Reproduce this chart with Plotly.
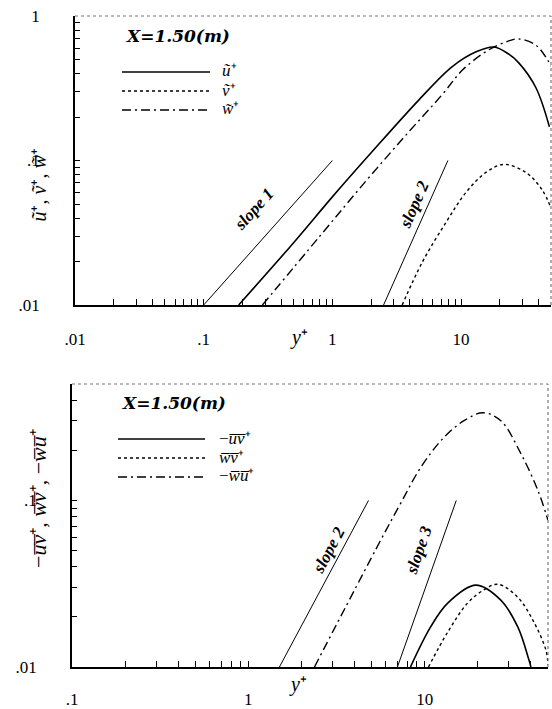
import numpy as np
import plotly.graph_objects as go

W, H = 552, 709

# ---------------- data (top panel) ----------------
u_x = [0.187, 0.5, 1.0, 2.0, 4.73, 8.5, 13.1, 18.0, 23.1, 28.1, 38.1, 48.6]
u_y = [0.01, 0.027, 0.056, 0.113, 0.264, 0.445, 0.565, 0.61, 0.55, 0.474, 0.32, 0.171]

v_x = [3.49, 5.0, 7.65, 10.9, 15.6, 21.5, 31.9, 42.5, 50.0]
v_y = [0.01, 0.0198, 0.0374, 0.060, 0.0827, 0.094, 0.0827, 0.063, 0.047]

w_x = [0.286, 0.8, 1.87, 3.88, 7.12, 10.3, 16.4, 23.5, 28.0, 38.0, 47.0, 50.0]
w_y = [0.01, 0.030, 0.074, 0.156, 0.285, 0.424, 0.583, 0.672, 0.694, 0.631, 0.497, 0.45]

slope1_x = [0.1, 1.0]
slope1_y = [0.01, 0.1]
slope2a_x = [2.5, 7.9]
slope2a_y = [0.01, 0.1]

# ---------------- data (bottom panel) ----------------
uv_x = [8.3, 10.8, 13.5, 19.5, 27.0, 33.7, 39.0, 40.0]
uv_y = [0.01, 0.0174, 0.0242, 0.031, 0.0252, 0.0174, 0.011, 0.01]

wv_x = [10.5, 13.5, 17.5, 21.6, 26.0, 33.7, 41.6, 48.7, 50.0]
wv_y = [0.01, 0.0162, 0.0242, 0.029, 0.0314, 0.0262, 0.0186, 0.0126, 0.0103]

wu_x = [2.37, 5.62, 7.3, 9.5, 12.8, 16.7, 21.4, 27.0, 35.1, 43.8, 50.0]
wu_y = [0.01, 0.0576, 0.096, 0.158, 0.238, 0.301, 0.336, 0.301, 0.191, 0.115, 0.076]

slope2b_x = [1.5, 4.8]
slope2b_y = [0.01, 0.1]
slope3_x = [7.0, 15.1]
slope3_y = [0.01, 0.1]

top_ticks = [0.01, 0.1, 1, 10]
top_ticktext = [".01", ".1", "1", "10"]
top_yticks = [0.01, 0.1, 1]
top_yticktext = [".01", ".1", "1"]
bot_ticks = [0.1, 1, 10]
bot_ticktext = [".1", "1", "10"]
bot_yticks = [0.01, 0.1]
bot_yticktext = [".01", ".1"]

top_labels = ["<i>ũ</i>⁺", "<i>ṽ</i>⁺", "<i>w̃</i>⁺"]
bot_labels = ["−<i>u̅v̅</i>⁺", "<i>w̅v̅</i>⁺", "−<i>w̅u̅</i>⁺"]


def with_minors(major, major_text, lo, hi):
    vals, texts = [], []
    d = 10 ** np.floor(np.log10(lo))
    while d <= hi:
        for m in range(1, 10):
            v = m * d
            if lo * 0.9999 <= v <= hi * 1.0001:
                vals.append(v)
                lab = ""
                for mv, mt in zip(major, major_text):
                    if abs(np.log10(mv) - np.log10(v)) < 1e-6:
                        lab = mt
                texts.append(lab)
        d *= 10
    return vals, texts


def px(x):
    return x / W


def py(y):
    return 1 - y / H


fig = go.Figure()

SERIF = "Liberation Serif"
line_solid = dict(color="black", width=1.6)
line_dot = dict(color="black", width=1.4, dash="3px,3px")
line_dd = dict(color="black", width=1.4, dash="9px,4px,2px,4px")
thin = dict(color="black", width=1)
styles = [line_solid, line_dot, line_dd]

# top traces
for xs, ys, st, nm in ((u_x, u_y, line_solid, top_labels[0]),
                       (v_x, v_y, line_dot, top_labels[1]),
                       (w_x, w_y, line_dd, top_labels[2])):
    fig.add_trace(go.Scatter(x=xs, y=ys, mode="lines", line=st, line_shape="spline",
                             name=nm, showlegend=False, xaxis="x", yaxis="y"))
for xs, ys in ((slope1_x, slope1_y), (slope2a_x, slope2a_y)):
    fig.add_trace(go.Scatter(x=xs, y=ys, mode="lines", line=thin, showlegend=False,
                             xaxis="x", yaxis="y"))

# bottom traces
for xs, ys, st, nm in ((uv_x, uv_y, line_solid, bot_labels[0]),
                       (wv_x, wv_y, line_dot, bot_labels[1]),
                       (wu_x, wu_y, line_dd, bot_labels[2])):
    fig.add_trace(go.Scatter(x=xs, y=ys, mode="lines", line=st, line_shape="spline",
                             name=nm, showlegend=False, xaxis="x2", yaxis="y2"))
for xs, ys in ((slope2b_x, slope2b_y), (slope3_x, slope3_y)):
    fig.add_trace(go.Scatter(x=xs, y=ys, mode="lines", line=thin, showlegend=False,
                             xaxis="x2", yaxis="y2"))

tickfont = dict(family=SERIF, size=17, color="black")


def axis(dom, rng, major, major_text, lo, hi, anchor, standoff, tlen):
    tv, tt = with_minors(major, major_text, lo, hi)
    return dict(type="log", domain=dom, range=rng, anchor=anchor, automargin=False,
                showline=True, linecolor="black", linewidth=1.5,
                showgrid=False, zeroline=False,
                tickmode="array", tickvals=tv, ticktext=tt,
                ticks="inside", ticklen=tlen, tickcolor="black", tickwidth=1,
                ticklabelstandoff=standoff, tickfont=tickfont)


top_xdom = [px(75), px(551)]
top_ydom = [py(305), py(16)]
bot_xdom = [px(72), px(548)]
bot_ydom = [py(667), py(384)]

fig.update_layout(
    width=W, height=H, margin=dict(l=0, r=0, t=0, b=0),
    paper_bgcolor="white", plot_bgcolor="white", showlegend=False,
    xaxis=axis(top_xdom, [-2, np.log10(50)], top_ticks, top_ticktext, 0.01, 50, "y", 18, 6),
    yaxis=axis(top_ydom, [-2, 0], top_yticks, top_yticktext, 0.01, 1, "x", 30, 5),
    xaxis2=axis(bot_xdom, [-1, np.log10(50)], bot_ticks, bot_ticktext, 0.1, 50, "y2", 16, 6),
    yaxis2=axis(bot_ydom, [-2, np.log10(0.5)], bot_yticks, bot_yticktext, 0.01, 0.5, "x2", 30, 5),
)

# dotted top/right frame edges
for xr, yr in (("x domain", "y domain"), ("x2 domain", "y2 domain")):
    fig.add_shape(type="line", xref=xr, yref=yr, x0=0, x1=1, y0=1, y1=1,
                  line=dict(color="#777", width=1.2, dash="dot"))
    fig.add_shape(type="line", xref=xr, yref=yr, x0=1, x1=1, y0=0, y1=1,
                  line=dict(color="#777", width=1.2, dash="dot"))

ann = []
legfont = dict(family=SERIF, size=17, color="black")

# legend keys (drawn manually for exact spacing)
top_leg_rows = [72, 91, 110]
bot_leg_rows = [439, 458, 477]
for i, st in enumerate(styles):
    fig.add_shape(type="line", xref="paper", yref="paper",
                  x0=px(122), x1=px(210), y0=py(top_leg_rows[i]), y1=py(top_leg_rows[i]),
                  line=dict(color="black", width=st["width"], dash=st.get("dash", "solid")))
    ann.append(dict(text=top_labels[i], xref="paper", yref="paper",
                    x=px(220), y=py(top_leg_rows[i] - 1), xanchor="left", yanchor="middle",
                    showarrow=False, font=legfont))
    fig.add_shape(type="line", xref="paper", yref="paper",
                  x0=px(118), x1=px(205), y0=py(bot_leg_rows[i]), y1=py(bot_leg_rows[i]),
                  line=dict(color="black", width=st["width"], dash=st.get("dash", "solid")))
    ann.append(dict(text=bot_labels[i], xref="paper", yref="paper",
                    x=px(217), y=py(bot_leg_rows[i] - 1), xanchor="left", yanchor="middle",
                    showarrow=False, font=legfont))

titlefont = dict(family="DejaVu Serif", size=17, color="black", weight="bold", style="italic")
ann.append(dict(text="X=1.50(m)", xref="paper", yref="paper", x=px(124), y=py(36),
                xanchor="left", yanchor="middle", showarrow=False, font=titlefont))
ann.append(dict(text="X=1.50(m)", xref="paper", yref="paper", x=px(120), y=py(403),
                xanchor="left", yanchor="middle", showarrow=False, font=titlefont))

axfont = dict(family=SERIF, size=20, color="black")
ann.append(dict(text="<i>ũ</i>⁺, <i>ṽ</i>⁺, <i>w̃</i>⁺", xref="paper", yref="paper",
                x=px(25), y=py(147), textangle=-90, showarrow=False, font=axfont))
ann.append(dict(text="−<i>u̅v̅</i>⁺, <i>w̅v̅</i>⁺, −<i>w̅u̅</i>⁺", xref="paper", yref="paper",
                x=px(24), y=py(570), textangle=-90, showarrow=False,
                font=dict(family=SERIF, size=22, color="black")))
ann.append(dict(text="<i>y</i>⁺", xref="paper", yref="paper", x=px(299), y=py(338),
                showarrow=False, font=axfont))
ann.append(dict(text="<i>y</i>⁺", xref="paper", yref="paper", x=px(298), y=py(698),
                showarrow=False, font=axfont))

slopefont = dict(family=SERIF, size=17, color="black", weight="bold", style="italic")
ann.append(dict(text="slope 1", xref="x", yref="y", x=np.log10(0.244), y=np.log10(0.046),
                textangle=-48, showarrow=False, font=slopefont))
ann.append(dict(text="slope 2", xref="x", yref="y", x=np.log10(4.32), y=np.log10(0.0497),
                textangle=-66, showarrow=False, font=slopefont))
ann.append(dict(text="slope 2", xref="x2", yref="y2", x=np.log10(2.85), y=np.log10(0.05),
                textangle=-62, showarrow=False, font=slopefont))
ann.append(dict(text="slope 3", xref="x2", yref="y2", x=np.log10(9.25), y=np.log10(0.05),
                textangle=-71, showarrow=False, font=slopefont))
fig.update_layout(annotations=ann)

fig.write_html("out.html")
